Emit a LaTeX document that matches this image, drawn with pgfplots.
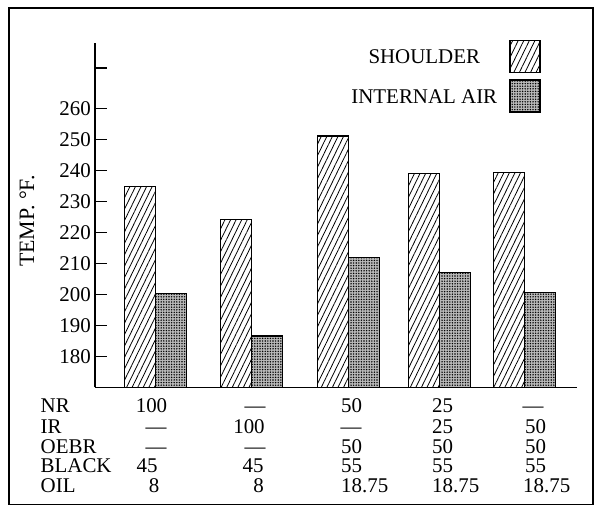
\documentclass[border=0pt]{standalone}
\usepackage{pgfplots}
\pgfplotsset{compat=1.18}
\usepackage{fontspec}
\setmainfont{Liberation Serif}
\usetikzlibrary{patterns.meta}
\begin{document}
\begin{tikzpicture}[x=1bp,y=1bp]
\path[use as bounding box] (-95,387.3) rectangle (508,-122.7);
\draw[line width=1.3bp] (-86,379.3) rectangle (498,-117.5);
\begin{axis}[
  at={(0,0)}, anchor=south west,
  scale only axis,
  width=482bp, height=344.3bp,
  xmin=0, xmax=482, ymin=170, ymax=281.1,
  axis x line=bottom, axis y line=left,
  axis line style={line width=1.5bp, -},
  ybar=0pt, bar width=31bp,
  clip=false,
  xtick=\empty,
  ytick={180,190,200,210,220,230,240,250,260,273},
  yticklabels={180,190,200,210,220,230,240,250,260,{}},
  tick align=inside,
  major tick length=12bp,
  major tick style={draw=black, line width=1.4bp},
  yticklabel style={font=\fontsize{21}{24}\selectfont, inner sep=2bp, xshift=-2bp},
  /pgf/number format/assume math mode=true,
  ylabel={TEMP. °F.},
  every axis y label/.style={at={(axis description cs:-0.141,0.483)}, anchor=center, rotate=90, font=\fontsize{22}{24}\selectfont},
  legend plot pos=right,
  legend cell align=center,
  legend style={at={(axis description cs:0.9247,1.0107)}, anchor=north east, draw=none, fill=none,
    inner sep=0pt, row sep=6.5bp, font=\fontsize{21}{24}\selectfont,
    /tikz/every odd column/.style={column sep=10bp}},
  legend image code/.code={\draw[#1] (0bp,-15bp) rectangle (30bp,17bp);},
]
\addplot[draw=black, line width=1.3bp, fill=white,
  postaction={pattern={Lines[angle=64,distance=5bp,line width=0.8bp]}}]
  coordinates {(60.7,234.7) (156.4,224.2) (253.2,251.1) (344.2,239.0) (429.3,239.4)};
\addplot[draw=black, line width=1.3bp, fill=gray!55,
  postaction={pattern={Dots[distance=2.6bp,radius=0.8bp]}}]
  coordinates {(60.7,200.3) (156.4,186.6) (253.2,211.8) (344.2,207.1) (429.3,200.5)};
\legend{SHOULDER, INTERNAL AIR}
% tick marks on the y axis, drawn as horizontal combs from x=0
\addplot[xcomb, bar shift=0pt, draw=black, line width=1.4bp, forget plot, mark=none]
  coordinates {(12,180) (12,190) (12,200) (12,210) (12,220) (12,230) (12,240) (12,250) (12,260) (12,273)};
\end{axis}
\begin{scope}[every node/.style={font=\fontsize{21}{24}\selectfont, inner sep=0pt, text height=14bp, text depth=0bp}]
\node[anchor=west] at (-54.5,-18.5) {NR};
\node[anchor=west] at (-54.5,-39) {IR};
\node[anchor=west] at (-54.5,-59) {OEBR};
\node[anchor=west] at (-54.5,-78.5) {BLACK};
\node[anchor=west] at (-54.5,-98.5) {OIL};
% column 1
\node at (56.5,-18.5) {100};
\node at (61,-39) {—};
\node at (61,-59) {—};
\node at (52,-78.5) {45};
\node at (59,-98.5) {8};
% column 2
\node at (160,-18.5) {—};
\node at (154,-39) {100};
\node at (160,-59) {—};
\node at (158,-78.5) {45};
\node at (163.5,-98.5) {8};
% column 3
\node[anchor=west] at (246,-18.5) {50};
\node at (256,-39) {—};
\node[anchor=west] at (246,-59) {50};
\node[anchor=west] at (246,-78.5) {55};
\node[anchor=west] at (246,-98.5) {18.75};
% column 4
\node[anchor=west] at (337,-18.5) {25};
\node[anchor=west] at (337,-39) {25};
\node[anchor=west] at (337,-59) {50};
\node[anchor=west] at (337,-78.5) {55};
\node[anchor=west] at (337,-98.5) {18.75};
% column 5
\node at (438,-18.5) {—};
\node[anchor=west] at (430,-39) {50};
\node[anchor=west] at (430,-59) {50};
\node[anchor=west] at (430,-78.5) {55};
\node[anchor=west] at (428,-98.5) {18.75};
\end{scope}
\end{tikzpicture}
\end{document}
